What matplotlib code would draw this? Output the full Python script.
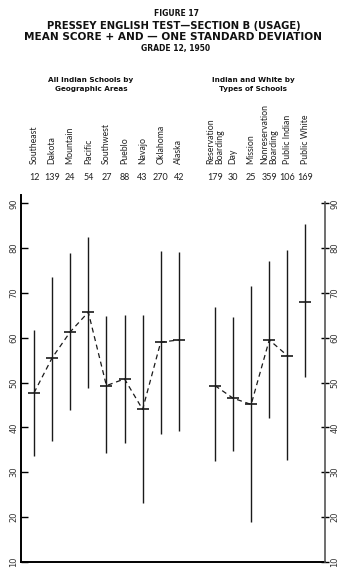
import matplotlib
matplotlib.use("Agg")
import matplotlib.pyplot as plt
import matplotlib.transforms as mtransforms

# ---- data ----
geo_labels = ["Southeast", "Dakota", "Mountain", "Pacific", "Southwest", "Pueblo", "Navajo", "Oklahoma", "Alaska"]
geo_n = [12, 139, 24, 54, 27, 88, 43, 270, 42]
geo_mean = [47.7, 55.5, 61.3, 65.7, 49.3, 50.8, 44.0, 59.0, 59.5]
geo_low = [33.7, 36.9, 43.9, 48.7, 34.3, 36.6, 23.0, 38.4, 39.2]
geo_high = [61.7, 73.6, 78.8, 82.4, 64.8, 65.1, 65.1, 79.4, 79.2]

type_labels = ["Reservation\nBoarding", "Day", "Mission", "Nonreservation\nBoarding", "Public Indian", "Public White"]
type_n = [179, 30, 25, 359, 106, 169]
type_mean = [49.3, 46.5, 45.1, 59.5, 56.0, 67.9]
type_low = [32.5, 34.6, 18.8, 42.0, 32.7, 51.3]
type_high = [66.9, 64.6, 71.5, 77.1, 79.6, 85.4]

yticks = [10, 20, 30, 40, 50, 60, 70, 80, 90]

W, H = 348, 579
fig = plt.figure(figsize=(W / 100, H / 100), dpi=100)
ax = fig.add_axes([21 / W, 1 - 561.7 / H, (325 - 21) / W, 82 * 4.48 / H])

geo_x = list(range(len(geo_labels)))
type_x = [10 + i for i in range(len(type_labels))]

col = "#1a1a1a"
for xs, lo, hi in ((geo_x, geo_low, geo_high), (type_x, type_low, type_high)):
    ax.vlines(xs, lo, hi, color=col, lw=1.0)

# mean marks
ax.plot(geo_x, geo_mean, ls="none", marker="_", ms=9, mew=1.2, color=col)
ax.plot(type_x, type_mean, ls="none", marker="_", ms=9, mew=1.2, color=col)
# dashed connectors
ax.plot(geo_x, geo_mean, ls=(0, (4, 3)), lw=0.9, color=col)
ax.plot(type_x[:5], type_mean[:5], ls=(0, (4, 3)), lw=0.9, color=col)

ax.set_xlim(-0.72, 16.08)
ax.set_ylim(10, 92)
ax.set_xticks([])
ax.spines["top"].set_visible(False)
ax.spines["right"].set_visible(False)
ax.spines["left"].set_linewidth(1.4)
ax.spines["bottom"].set_linewidth(1.4)
ax.spines["left"].set_bounds(10, 91.9)

ax.set_yticks(yticks)
ax.set_yticklabels([str(v) for v in yticks])
ax.tick_params(axis="y", left=True, right=False, labelleft=True,
               direction="in", length=5, width=1, pad=2, labelsize=6, labelcolor="#333333")
for lab in ax.get_yticklabels():
    lab.set_rotation(90)
    lab.set_va("center")

ax2 = ax.twinx()
ax2.set_ylim(10, 92)
ax2.set_xticks([])
for s in ("top", "left", "bottom"):
    ax2.spines[s].set_visible(False)
ax2.spines["right"].set_linewidth(1.2)
ax2.spines["right"].set_color("#555555")
ax2.spines["right"].set_bounds(10, 90.3)
ax2.set_yticks(yticks)
ax2.set_yticklabels([str(v) for v in yticks])
ax2.tick_params(axis="y", direction="inout", length=6, width=1, pad=1, labelsize=6, labelcolor="#333333")
for lab in ax2.get_yticklabels():
    lab.set_rotation(90)
    lab.set_va("center")

# ---- text ----
tf = mtransforms.blended_transform_factory(ax.transData, fig.transFigure)
def fy(py):
    return 1 - py / H

light = dict(family=["Lato", "DejaVu Sans"], color="#222222")
for x, lab, n in zip(geo_x + type_x, geo_labels + type_labels, geo_n + type_n):
    ax.text(x, fy(164), lab, transform=tf, rotation=90, ha="center", va="bottom",
            fontsize=6.3, multialignment="left", linespacing=1.0, **light)
    ax.text(x, fy(177), str(n), transform=tf, ha="center", va="center", fontsize=6.5, **light)

bold = dict(family=["DejaVu Sans"], weight="bold", color="#111111", ha="center", va="center")
fig.text(176 / W, fy(14), "FIGURE 17", fontsize=5.5, **bold)
fig.text(174 / W, fy(26), "PRESSEY ENGLISH TEST\u2014SECTION B (USAGE)", fontsize=7.2, **bold)
fig.text(173 / W, fy(37.5), "MEAN SCORE + AND \u2014 ONE STANDARD DEVIATION", fontsize=7.6, **bold)
fig.text(176 / W, fy(49), "GRADE 12, 1950", fontsize=5.5, **bold)

sub = dict(family=["DejaVu Sans"], weight="bold", color="#111111", ha="center", va="center", fontsize=5.2)
fig.text(91 / W, fy(80), "All Indian Schools by", **sub)
fig.text(91 / W, fy(88.5), "Geographic Areas", **sub)
fig.text(253 / W, fy(80), "Indian and White by", **sub)
fig.text(253 / W, fy(88.5), "Types of Schools", **sub)

fig.savefig("out.png", dpi=100)
